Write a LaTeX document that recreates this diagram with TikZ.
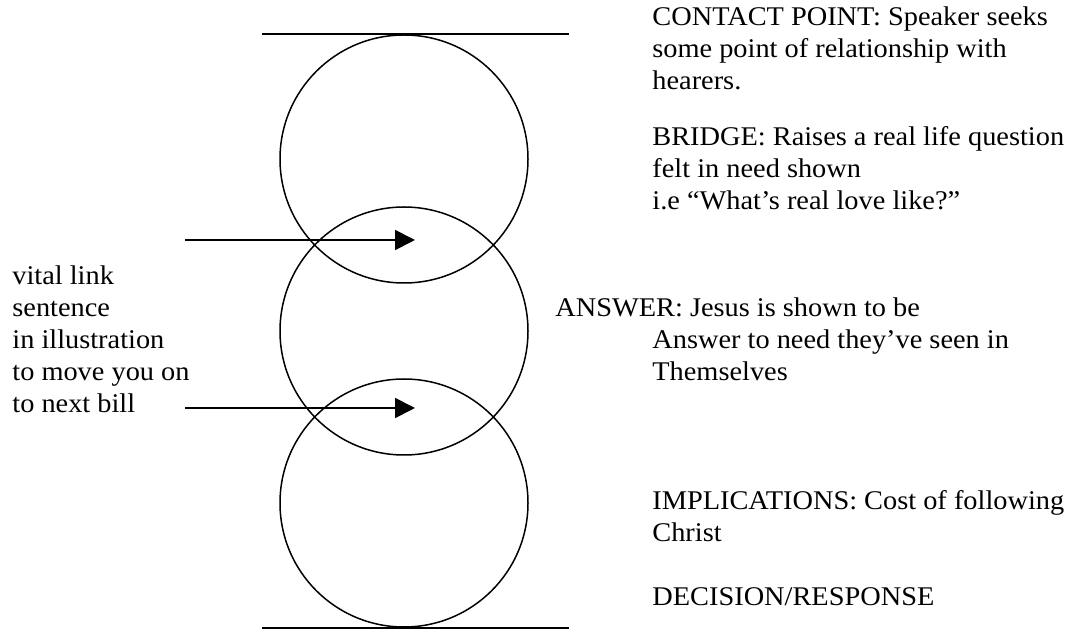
\documentclass[tikz,border=0pt]{standalone}
\usepackage{fontspec}
\setmainfont{Liberation Serif}[FakeStretch=1.05]
\usetikzlibrary{arrows.meta}
\begin{document}
\begin{tikzpicture}[x=0.5pt,y=-0.5pt,
  ring/.style={circle,draw,line width=0.75pt,minimum size=124pt,inner sep=0pt},
  rule/.style={line width=0.85pt},
  pointer/.style={line width=0.85pt,-{Triangle[length=10pt,width=10pt]}},
  txt/.style={anchor=base west,inner sep=0pt,align=left,font=\fontsize{13.5}{16}\selectfont}]
\useasboundingbox (0,0) rectangle (1077,630);
% rules
\coordinate (t1) at (262,34); \coordinate (t2) at (569,34);
\coordinate (b1) at (262,628); \coordinate (b2) at (569,628);
\draw[rule] (t1) -- (t2);
\draw[rule] (b1) -- (b2);
% circles
\node[ring] (c1) at (404,159) {};
\node[ring] (c2) at (404,331) {};
\node[ring] (c3) at (404,503) {};
% arrows
\coordinate (a1s) at (185,240); \coordinate (a1e) at (415,240);
\coordinate (a2s) at (185,408); \coordinate (a2e) at (415,408);
\draw[pointer] (a1s) -- (a1e);
\draw[pointer] (a2s) -- (a2e);
% texts (anchored at the baseline of the last line)
\node[txt] (contact) at (652,90) {CONTACT POINT: Speaker seeks\\some point of relationship with\\hearers.};
\node[txt] (bridge) at (652,210) {BRIDGE: Raises a real life question\\felt in need shown\\i.e “What’s real love like?”};
\node[txt] (answer) at (555,381) {ANSWER: Jesus is shown to be\\\hspace*{48.5pt}Answer to need they’ve seen in\\\hspace*{48.5pt}Themselves};
\node[txt] (impl) at (652,542) {IMPLICATIONS: Cost of following\\Christ};
\node[txt] (decision) at (652,605) {DECISION/RESPONSE};
\node[txt] (vital) at (12,413) {vital link\\sentence\\in illustration\\to move you on\\to next bill};
\end{tikzpicture}
\end{document}
